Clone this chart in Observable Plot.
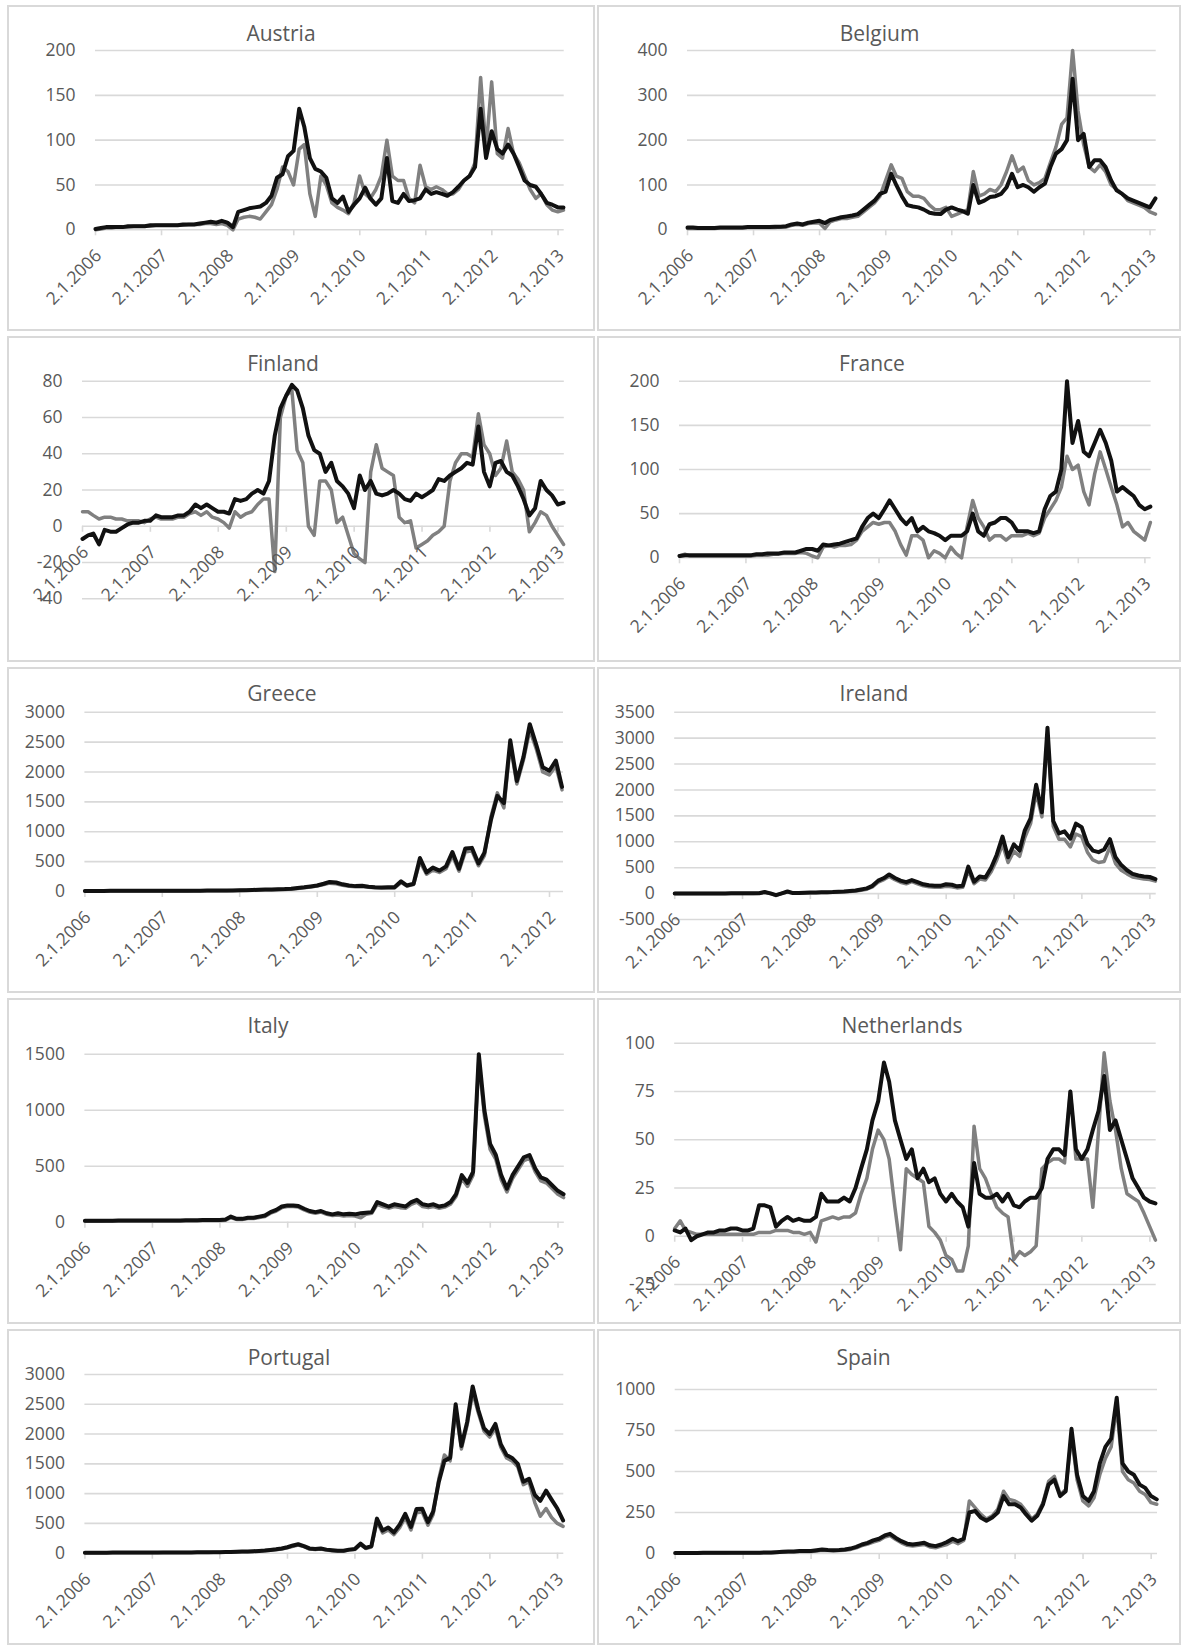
<!DOCTYPE html>
<html>
<head>
<meta charset="utf-8">
<script src="https://cdn.jsdelivr.net/npm/d3@7"></script>
<script src="https://cdn.jsdelivr.net/npm/@observablehq/plot@0.6"></script>
<style>
  html, body { margin: 0; padding: 0; background: #fff; }
  body { font-family: "Open Sans", "Noto Sans", sans-serif; }
  #root { position: relative; width: 1184px; height: 1648px; overflow: hidden; }
  .panel { position: absolute; border: 2px solid #d9d9d9; box-sizing: border-box; background: #fff; }
  .title { position: absolute; transform: translate(-50%, -50%); font-size: 21px; color: #595959; white-space: nowrap; }
  .chart { position: absolute; }
  .chart svg { overflow: visible; }
</style>
</head>
<body>
<div id="root"></div>
<script>
// ---------------- DATA (monthly readings, first point 2.1.2006, then 1st of each month) ----------------
const countries = ["Austria", "Belgium", "Finland", "France", "Greece", "Ireland", "Italy", "Netherlands", "Portugal", "Spain"];

const austriaTicks = [0, 50, 100, 150, 200];
const austriaGray = [
  0,1,2,2,3,3,3,4,4,4,4,5,
  5,5,5,5,5,6,6,6,7,7,6,7,
  5,0,12,14,15,14,12,20,28,45,70,65,
  50,90,95,40,15,60,50,30,25,22,18,30,
  60,40,35,45,60,100,60,55,55,35,30,72,
  48,45,48,45,40,40,45,55,60,75,170,90,
  165,85,80,113,85,75,60,45,35,40,28,22,
  20,22];
const austriaBlack = [
  1,2,3,3,3,3,4,4,4,4,5,5,
  5,5,5,5,6,6,6,7,8,9,8,10,
  8,3,20,22,24,25,26,30,38,58,62,82,
  88,135,115,80,68,65,58,35,30,37,20,28,
  35,47,35,28,35,80,32,30,40,32,33,35,
  45,40,42,40,38,42,48,55,60,70,135,80,
  110,90,85,95,85,70,55,50,48,40,30,28,
  25,25];

const belgiumTicks = [0, 100, 200, 300, 400];
const belgiumGray = [
  3,3,3,3,3,3,4,4,4,4,4,5,
  5,5,5,5,5,6,6,10,12,10,14,15,
  15,3,18,22,25,25,28,30,40,50,60,75,
  110,145,120,115,85,75,75,70,55,45,45,50,
  30,35,40,45,130,75,80,90,85,100,130,165,
  130,140,110,100,105,115,150,185,235,250,400,265,
  190,140,130,145,130,100,90,80,65,60,55,50,
  40,35];
const belgiumBlack = [
  5,5,4,4,4,4,5,5,5,5,5,6,
  6,6,6,6,7,7,8,12,14,12,16,18,
  20,15,22,25,28,30,32,35,45,55,65,80,
  85,125,100,75,55,52,50,45,38,36,35,45,
  50,45,42,36,100,60,65,73,75,80,95,125,
  95,100,95,85,95,103,140,170,180,200,337,200,
  214,140,155,155,140,110,88,80,70,65,60,55,
  50,70];

const finlandTicks = [-40, -20, 0, 20, 40, 60, 80];
const finlandGray = [
  8,8,6,4,5,5,4,4,3,3,3,2,
  4,5,4,4,4,5,5,7,8,6,8,5,
  4,2,-1,8,5,7,8,12,15,15,-25,60,
  72,75,42,35,0,-5,25,25,20,2,5,-5,
  -15,-18,-20,30,45,32,30,28,5,2,3,-12,
  -10,-8,-5,-3,0,25,35,40,40,38,62,45,
  40,28,32,47,30,26,20,-3,2,8,6,0,
  -5,-10];
const finlandBlack = [
  -7,-5,-4,-10,-2,-3,-3,-1,1,2,2,3,
  3,6,5,5,5,6,6,8,12,10,12,10,
  8,8,7,15,14,15,18,20,18,25,50,65,
  72,78,75,65,50,42,40,30,35,25,22,18,
  10,28,20,25,18,17,18,20,18,15,14,18,
  16,18,20,26,25,28,30,32,35,34,55,30,
  22,35,36,30,28,22,15,6,10,25,20,17,
  12,13];

const franceTicks = [0, 50, 100, 150, 200];
const franceGray = [
  2,4,2,2,2,2,2,2,2,2,2,2,
  2,2,3,3,3,4,4,5,5,5,6,5,
  2,0,12,14,12,14,14,15,20,30,35,40,
  38,40,40,30,15,3,25,25,20,0,8,5,
  0,12,5,0,35,65,45,35,20,25,25,20,
  25,25,25,28,25,28,45,55,65,80,115,100,
  105,75,60,95,120,100,80,60,35,40,30,25,
  20,40];
const franceBlack = [
  2,3,3,3,3,3,3,3,3,3,3,3,
  3,3,4,4,5,5,5,6,6,6,8,10,
  10,8,15,14,15,16,18,20,22,35,45,50,
  45,55,65,55,45,38,45,30,35,30,28,25,
  20,25,25,25,30,50,30,25,38,40,45,45,
  40,30,30,30,28,30,55,70,75,100,200,130,
  155,120,115,130,145,130,110,75,80,75,70,60,
  55,58];

const greeceTicks = [0, 500, 1000, 1500, 2000, 2500, 3000];
const greeceGray = [
  8,8,8,8,10,10,10,10,10,10,10,10,
  10,10,10,10,10,12,12,13,13,13,14,15,
  18,20,22,26,28,30,33,35,40,52,62,75,
  90,115,140,130,105,88,80,85,70,62,58,62,
  60,150,90,115,500,290,360,320,380,600,340,660,
  680,430,600,1250,1650,1400,2450,1800,2200,2700,2380,2000,
  1950,2100,1700];
const greeceBlack = [
  10,10,10,10,12,12,12,12,12,12,12,12,
  12,12,12,12,12,14,14,15,15,15,16,18,
  20,22,25,30,32,35,38,40,45,60,70,85,
  100,130,160,150,120,100,90,95,80,70,65,70,
  70,170,100,130,560,320,400,350,420,660,380,720,
  730,470,650,1200,1600,1480,2530,1850,2250,2800,2450,2080,
  2020,2190,1750];

const irelandTicks = [-500, 0, 500, 1000, 1500, 2000, 2500, 3000, 3500];
const irelandGray = [
  0,0,1,1,1,1,2,2,2,2,3,3,
  3,3,4,6,25,3,-35,3,35,8,10,12,
  15,18,20,22,25,30,35,40,50,65,85,130,
  220,270,330,270,220,190,230,190,150,130,120,120,
  140,130,110,120,450,190,280,260,420,650,950,600,
  820,720,1080,1350,1950,1480,3050,1300,1050,1050,900,1150,
  1100,800,650,600,620,900,580,450,380,320,300,280,
  270,240];
const irelandBlack = [
  2,2,3,3,3,3,4,4,4,4,5,5,
  5,5,6,8,30,5,-30,5,40,10,12,15,
  20,22,25,28,30,35,40,50,60,80,100,150,
  250,300,370,300,250,220,260,220,180,160,150,150,
  180,170,140,150,520,230,330,310,500,750,1100,700,
  950,830,1220,1450,2100,1570,3200,1400,1160,1200,1060,1350,
  1280,960,830,800,850,1050,700,550,450,380,350,330,
  320,280];

const italyTicks = [0, 500, 1000, 1500];
const italyGray = [
  8,8,9,9,10,10,10,10,10,10,10,10,
  10,10,10,10,11,11,12,13,13,15,15,15,
  15,18,40,25,25,32,32,42,50,80,100,130,
  140,140,135,110,90,80,90,70,60,65,55,60,
  55,40,70,80,160,140,125,140,130,125,160,180,
  140,130,140,125,135,160,230,390,320,420,1450,950,
  650,560,380,270,390,470,550,570,450,370,350,300,
  250,220];
const italyBlack = [
  12,12,13,13,14,14,15,15,15,15,15,15,
  15,15,15,15,16,16,17,18,18,20,20,20,
  20,25,50,30,30,40,40,50,60,90,110,140,
  150,150,145,120,100,90,100,80,70,80,70,75,
  70,80,85,90,180,160,140,160,150,140,180,200,
  160,150,160,140,150,180,250,420,350,450,1500,1000,
  700,600,420,300,420,500,580,600,480,400,380,330,
  280,250];

const netherlandsTicks = [-25, 0, 25, 50, 75, 100];
const netherlandsGray = [
  4,8,3,2,1,1,1,1,1,1,1,1,
  1,1,1,2,2,2,3,3,3,2,2,1,
  2,-3,8,9,10,9,10,10,12,22,30,45,
  55,50,40,15,-7,35,32,30,28,5,2,-2,
  -10,-12,-18,-18,-5,57,35,30,22,15,12,10,
  -12,-8,-10,-8,-5,35,38,40,40,38,75,40,
  40,40,15,55,95,70,55,35,22,20,18,12,
  5,-2];
const netherlandsBlack = [
  3,2,4,-2,0,1,2,2,3,3,4,4,
  3,3,4,16,16,15,5,8,10,8,9,8,
  8,10,22,18,18,18,20,18,25,35,45,60,
  70,90,80,60,50,40,45,30,35,28,30,22,
  18,22,18,15,5,38,22,20,20,22,18,22,
  16,15,18,20,20,25,40,45,45,42,75,45,
  40,45,55,65,83,55,60,50,40,30,25,20,
  18,17];

const portugalTicks = [0, 500, 1000, 1500, 2000, 2500, 3000];
const portugalGray = [
  6,6,7,7,7,8,8,8,8,8,9,9,
  9,9,10,10,10,10,11,11,12,12,13,14,
  15,17,19,22,24,26,29,33,40,48,58,70,
  90,115,135,110,70,60,70,52,43,35,35,52,
  60,145,80,105,530,340,390,310,430,600,390,680,
  690,470,650,1250,1650,1550,2420,1750,2150,2700,2350,2050,
  1950,2100,1780,1600,1550,1450,1150,1200,850,620,750,600,
  500,450];
const portugalBlack = [
  8,8,9,9,9,10,10,10,10,10,11,11,
  11,11,12,12,12,12,13,13,14,14,15,16,
  18,20,22,25,28,30,33,38,45,55,65,80,
  100,130,150,120,80,70,80,60,50,40,40,60,
  70,160,90,120,580,380,430,350,480,660,440,740,
  745,520,700,1200,1550,1600,2500,1800,2200,2800,2400,2100,
  2000,2170,1830,1650,1600,1500,1200,1250,980,880,1050,900,
  750,550];

const spainTicks = [0, 250, 500, 750, 1000];
const spainGray = [
  2,2,2,2,2,3,3,3,3,3,4,4,
  4,4,4,4,5,5,7,8,10,10,12,12,
  12,15,20,18,16,18,20,25,35,48,58,70,
  80,100,110,85,65,50,45,50,55,40,35,45,
  55,75,60,80,320,280,240,210,230,270,380,330,
  320,300,260,210,240,310,440,470,360,390,720,450,
  320,290,340,480,580,650,900,500,450,430,380,360,
  310,300];
const spainBlack = [
  3,3,3,3,3,4,4,4,4,4,5,5,
  5,5,5,5,6,6,8,10,12,12,15,15,
  15,20,25,22,20,22,25,30,40,55,65,80,
  90,110,120,95,75,60,55,60,65,50,45,55,
  70,90,75,90,250,260,220,200,220,250,350,300,
  300,280,240,200,230,300,420,450,350,380,760,480,
  350,320,380,550,650,700,950,550,500,480,420,400,
  350,330];

const tickYearsFull = [2006, 2007, 2008, 2009, 2010, 2011, 2012, 2013];
const tickYearsGreece = [2006, 2007, 2008, 2009, 2010, 2011, 2012];

const series = {
  Austria: [austriaGray, austriaBlack, austriaTicks, tickYearsFull],
  Belgium: [belgiumGray, belgiumBlack, belgiumTicks, tickYearsFull],
  Finland: [finlandGray, finlandBlack, finlandTicks, tickYearsFull],
  France: [franceGray, franceBlack, franceTicks, tickYearsFull],
  Greece: [greeceGray, greeceBlack, greeceTicks, tickYearsGreece],
  Ireland: [irelandGray, irelandBlack, irelandTicks, tickYearsFull],
  Italy: [italyGray, italyBlack, italyTicks, tickYearsFull],
  Netherlands: [netherlandsGray, netherlandsBlack, netherlandsTicks, tickYearsFull],
  Portugal: [portugalGray, portugalBlack, portugalTicks, tickYearsFull],
  Spain: [spainGray, spainBlack, spainTicks, tickYearsFull]
};

// ---------------- LAYOUT (page pixels) ----------------
const cols = [[7, 595], [597, 1181]];
const rowsPos = [[5, 331], [336, 662], [667, 993], [998, 1324], [1329, 1645]];
const layout = {
  Austria:     {c: 0, r: 0, xl: 95,    xr: 563.7,  yt: 50,     yb: 229.3,  tx: 281,   ty: 33,   end: "2013-02-05"},
  Belgium:     {c: 1, r: 0, xl: 687,   xr: 1155.7, yt: 50,     yb: 229.3,  tx: 879.5, ty: 33,   end: "2013-02-05"},
  Finland:     {c: 0, r: 1, xl: 82,    xr: 563.8,  yt: 380.7,  yb: 598.3,  tx: 283,   ty: 363,  end: "2013-02-05"},
  France:      {c: 1, r: 1, xl: 679,   xr: 1150.6, yt: 380.7,  yb: 557.3,  tx: 872,   ty: 363,  end: "2013-02-05"},
  Greece:      {c: 0, r: 2, xl: 84.4,  xr: 563,    yt: 711.7,  yb: 891,    tx: 282,   ty: 693,  end: "2012-03-08"},
  Ireland:     {c: 1, r: 2, xl: 674.2, xr: 1155.7, yt: 711.7,  yb: 919,    tx: 874,   ty: 693,  end: "2013-02-05"},
  Italy:       {c: 0, r: 3, xl: 84.4,  xr: 563.8,  yt: 1053.7, yb: 1221.7, tx: 268,   ty: 1025, end: "2013-02-05"},
  Netherlands: {c: 1, r: 3, xl: 674.2, xr: 1155.7, yt: 1042.7, yb: 1284,   tx: 902,   ty: 1025, end: "2013-02-05"},
  Portugal:    {c: 0, r: 4, xl: 84.4,  xr: 563.3,  yt: 1374,   yb: 1552.7, tx: 289,   ty: 1357, end: "2013-02-05"},
  Spain:       {c: 1, r: 4, xl: 674.7, xr: 1157,   yt: 1389,   yb: 1553,   tx: 863.5, ty: 1357, end: "2013-02-05"}
};

const FONT = "'Open Sans', 'Noto Sans', sans-serif";
const TEXT = "#595959";
const GRID = "#d9d9d9";
const startDate = new Date(Date.UTC(2006, 0, 2));
const fmt = d3.utcFormat("%-d.%-m.%Y");

function monthDates(n) {
  return d3.range(n).map(i => i === 0 ? startDate : new Date(Date.UTC(2006, i, 1)));
}

const root = document.getElementById("root");

for (const name of countries) {
  const L = layout[name];
  const [gray, black, yTicks, years] = series[name];
  const [cl, cr] = cols[L.c];
  const [rt, rb] = rowsPos[L.r];
  const W = cr - cl, H = rb - rt;

  const box = document.createElement("div");
  box.className = "panel";
  Object.assign(box.style, {left: cl + "px", top: rt + "px", width: W + "px", height: H + "px"});
  root.appendChild(box);

  const dates = monthDates(gray.length);
  const toRows = arr => arr.map((v, i) => ({date: dates[i], v}));
  const tickDates = years.map(y => new Date(Date.UTC(y, 0, 2)));
  const endDate = new Date(L.end + "T00:00:00Z");

  const svg = Plot.plot({
    width: W,
    height: H,
    marginLeft: L.xl - cl,
    marginRight: cr - L.xr,
    marginTop: L.yt - rt,
    marginBottom: rb - L.yb,
    style: {background: "transparent", color: TEXT, fontSize: "17.5px", fontFamily: FONT, overflow: "visible"},
    x: {type: "utc", domain: [startDate, endDate], axis: null},
    y: {domain: [d3.min(yTicks), d3.max(yTicks)], ticks: yTicks, tickSize: 0, tickPadding: 20,
        tickFormat: d => String(d), label: null},
    marks: [
      Plot.ruleY(yTicks, {stroke: GRID, strokeWidth: 1.6}),
      Plot.ruleX(tickDates, {x: d => d, y1: () => 0, y2: () => 0, insetBottom: -6, stroke: GRID, strokeWidth: 1.6}),
      Plot.line(toRows(gray), {x: "date", y: "v", stroke: "#808080", strokeWidth: 3.5}),
      Plot.line(toRows(black), {x: "date", y: "v", stroke: "#111111", strokeWidth: 4}),
      Plot.text(tickDates, {x: d => d, y: () => 0, text: d => fmt(d), rotate: -45, textAnchor: "end",
        lineAnchor: "middle", dx: 3, dy: 23, fill: TEXT, fontSize: 17.5, fontFamily: FONT})
    ]
  });
  const wrap = document.createElement("div");
  wrap.className = "chart";
  Object.assign(wrap.style, {left: cl + "px", top: rt + "px", width: W + "px", height: H + "px"});
  wrap.appendChild(svg);
  root.appendChild(wrap);

  const t = document.createElement("div");
  t.className = "title";
  t.textContent = name;
  Object.assign(t.style, {left: L.tx + "px", top: L.ty + "px"});
  root.appendChild(t);
}
</script>
</body>
</html>
